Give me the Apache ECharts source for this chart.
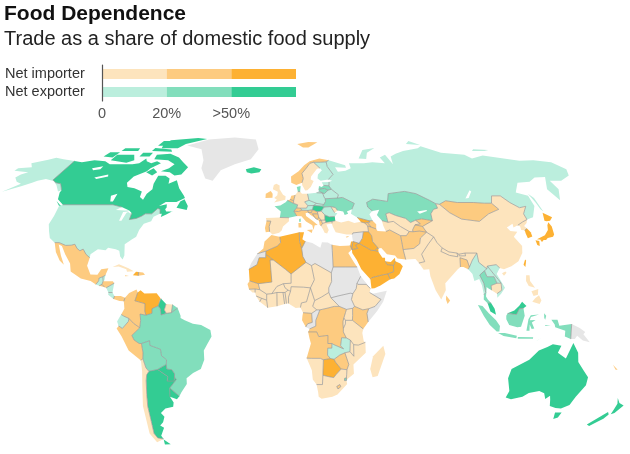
<!DOCTYPE html>
<html><head><meta charset="utf-8">
<style>html,body{margin:0;padding:0;background:#fff}#c{width:630px;height:454px}</style>
<script src="https://cdn.jsdelivr.net/npm/echarts@6/dist/echarts.min.js"></script>
</head><body><div id="c"></div>
<script>
// ---------- legend ----------
const legendRows = ['Net importer', 'Net exporter'];
const legendTicks = ['0', '20%', '>50%', ''];
const legendSpans = [1, 1, 1];

// ---------- country groups ----------
const importerLow = ['Sweden','UK','Spain','Germany','Greece','Turkey','Chile','Suriname','Cuba','Mali','Niger','Chad','Nigeria','Ethiopia','CAR','Cameroon','Uganda','Tanzania','Namibia','South Africa','Mozambique','Madagascar','Malawi','Guinea','Guinea-Bissau','Sierra Leone','Liberia','Ivory Coast','Ghana','Togo','Benin','Burkina Faso','Rwanda','Pakistan','India','Nepal','Bhutan','China','North Korea','Uzbekistan','Turkmenistan','Cambodia','Philippines','Serbia','Macedonia','Moldova'];
const importerMid = ['Mexico','Colombia','Peru','Norway','Svalbard','Portugal','Italy','Ireland','Belgium','Netherlands','Switzerland','Albania','Montenegro','Bosnia','Croatia','Slovenia','Morocco','Egypt','Senegal','Gabon','DRC','Kenya','Angola','Zimbabwe','Lesotho','Iran','Afghanistan','Bangladesh','Sri Lanka','Mongolia','Kyrgyzstan','Tajikistan','Azerbaijan','Armenia','Honduras','El Salvador','Panama','Dominican Republic','Jamaica','New Caledonia','Cyprus'];
const importerHigh = ['Venezuela','Haiti','Algeria','Tunisia','Mauritania','Botswana','Saudi Arabia','Iraq','Yemen','Oman','UAE','Kuwait','Jordan','Israel','Georgia','Japan','South Korea','Taiwan'];
const exporterLow = ['USA','Russia','Finland','Belarus','Poland','Romania','Czechia','Slovakia','Austria','Estonia','Ecuador','Guatemala','Belize','Nicaragua','Costa Rica','Zambia','Myanmar','Laos','Vietnam'];
const exporterMid = ['Brazil','Bolivia','French Guiana','France','Denmark','Ukraine','Lithuania','Latvia','Kazakhstan','Thailand','Indonesia','Swaziland'];
const exporterHigh = ['Canada','Iceland','Guyana','Paraguay','Uruguay','Argentina','Hungary','Bulgaria','Malaysia','Australia','New Zealand'];
const noData = ['Greenland','Libya','Sudan','South Sudan','Western Sahara','Eritrea','Somalia','Congo','Syria','Papua New Guinea'];

// ---------- outlines: lon lat; "|" starts an inner ring ----------
const outlines = {
USA:['-124.7 48.4,-123 49,-95 49,-89.5 48,-92 46.7,-87 46.5,-84.5 46.5,-85 46,-87.5 45.8,-87.8 42,-86.5 42,-85.5 45.5,-84.7 45.8,-83.5 45.3,-82.5 45.3,-82.5 42.5,-79 43,-76.5 44,-75 45,-71.5 45,-69.2 47.4,-67.8 47,-67 45,-70 43.7,-70.5 41.8,-74 40.7,-75.5 38,-76 35,-78 33.9,-81 31.8,-80 27,-80.5 25.2,-82 26.5,-83 29,-85 29.7,-89 30.3,-90 29.2,-94 29.6,-97.2 27.5,-97.2 26,-99.5 27.5,-101.5 29.7,-103 29,-104.7 30,-106.5 31.8,-108.2 31.4,-111 31.3,-114.8 32.5,-117.1 32.5,-120.5 34.5,-122.5 37.5,-124.3 40.4,-124 44',
'-141 69.6,-141 60.3,-137.5 59,-134 58.5,-130 55.5,-131.5 55,-136 58,-140 59.8,-146 60.8,-150 60,-152 59,-156 57.5,-164 54.8,-158 58.5,-162 59.5,-166 61.5,-165 63,-162 64,-172 64.7,-172 66,-164 66.5,-168 68.5,-160 70.3,-156.5 71.3,-150 70.5'],
Canada:['-141 69.6,-135 69,-128 70,-120 69.5,-115 68,-108 68,-100 68,-96 68.5,-94 71,-92 69.5,-88 68.5,-85 69.5,-81.5 68.5,-86 66,-87 64.5,-93 62,-94.5 59,-92.5 57,-88 56.5,-82.5 55,-82 52.5,-79.5 51.3,-79 54,-77 56,-78 58.5,-78 62.3,-73.5 62.4,-70 61,-69 58.5,-65 60.2,-61.5 56.5,-57 53,-56 52,-60 50.2,-66 50.2,-69 48.5,-65 49.2,-64.5 47.8,-65 47,-64 46,-61 46,-60 46.5,-63.5 44.7,-66 43.6,-66 45,-67 45,-67.8 47,-69.2 47.4,-71.5 45,-75 45,-76.5 44,-79 43,-82.5 42.5,-82.5 45.3,-84.5 46.5,-89.5 48,-95 49,-123 49,-128 51.5,-130 54.5,-130 55.5,-134 58.5,-137.5 59,-141 60.3|-124 66,-118 67,-118 65.5,-122 65|-117 61.5,-110 63,-109 62,-115 60.8|-99 53,-96 54,-96 50.5,-97.5 50.5',
'-80 73.5,-72 71.5,-67 69,-62 66.5,-64 63,-68 62.5,-72 64,-78 64.5,-74 66,-72 68,-78 70,-88 70.5,-89 73','-117 70,-105 68.8,-101 70,-105 73,-117 73','-125 72,-118 71.5,-117 74.3,-124 74.3','-90 76.5,-78 76.5,-75 79,-62 82.5,-70 83.1,-90 81.5,-92 79','-95 75,-80 74.6,-82 75.8,-95 76.7','-117 75,-105 75,-106 76.5,-117 76.5','-95 78,-87 78,-88 81,-95 81','-100 72,-93 72,-93 74,-100 74','-87 64,-82 62.5,-80 64,-84 66','-59 47.7,-53 46.7,-53 48.5,-56 51.5,-58 50.5','-128 50.7,-123.5 48.4,-125 48.7'],
Greenland:['-73 78.2,-60 82,-40 83.5,-22 82,-18 76,-22 70.5,-32 68,-40 65,-43 60,-48 61,-53 66,-54 70,-60 76'],
Iceland:['-24 65.5,-19 66.5,-14 65.5,-15 64,-20 63.4,-23 64'],
Mexico:['-117.1 32.5,-114.8 32.5,-111 31.3,-108.2 31.4,-106.5 31.8,-104.7 30,-103 29,-101.5 29.7,-99.5 27.5,-97.2 26,-97.8 22.5,-95.5 18.8,-92 18.6,-90.5 21,-87 21.5,-88 18.5,-89.2 17.8,-91 17.2,-91 16,-92.2 14.5,-95 16,-100 17,-105.5 20,-106.5 23.5,-110 27.5,-112.8 31,-114.7 31.7,-112 27,-109.5 23,-112 24.8,-115 28.5'],
Guatemala:['-92.2 14.5,-91 16,-91 17.2,-89.2 17.8,-88.8 15.9,-89.2 14.5,-90.5 13.9'],
Belize:['-88 18.5,-88.2 16.3,-88.8 15.9,-89.2 17.8'],
Honduras:['-88.8 15.9,-84 15.8,-83.2 15,-87 13,-87.8 13.3,-89.2 14.5'],
'El Salvador':['-89.2 14.5,-87.8 13.3,-90.5 13.9'],
Nicaragua:['-83.2 15,-83.7 11,-85.7 11,-87 13'],
'Costa Rica':['-83.7 11,-82.6 9.5,-83 8.2,-85.7 10,-85.7 11'],
Panama:['-82.6 9.5,-79.5 9.5,-77.4 8.7,-77.9 7.2,-80 7.3,-83 8.2'],
Cuba:['-85 22,-82 23.2,-77 21.5,-74.2 20.2,-77.5 19.9,-78 21,-82 22.2'],
Haiti:['-74.4 18.4,-73 19.9,-71.7 19.8,-71.7 18.2'],
'Dominican Republic':['-71.7 19.8,-69.5 19.6,-68.4 18.6,-71.7 18.2'],
Jamaica:['-78.3 18.4,-76.3 18.1,-76.5 17.9,-78.2 18'],
Colombia:['-77.4 8.7,-75.5 10.8,-72 12.3,-71.3 11,-72.5 7.4,-67.5 6.2,-67.5 2.9,-66.9 1.2,-69.8 1.7,-69.5 -1,-70 -4.2,-73 -2.3,-75.2 -0.2,-77.7 0.8,-79 1.5,-77.5 4,-77.9 7.2'],
Venezuela:['-71.3 11,-70 12,-68 10.6,-62 10.7,-60 8.5,-59.8 8.4,-61 5.2,-64 4,-64 2,-66.9 1.2,-67.5 2.9,-67.5 6.2,-72.5 7.4'],
Guyana:['-59.8 8.4,-57.2 6,-58 3.5,-57 2,-59.5 1.3,-60 4,-61 5.2'],
Suriname:['-57 2,-54.5 2.3,-54 5.8,-57.2 6,-58 3.5'],
'French Guiana':['-54.5 2.3,-51.5 4.3,-54 5.8'],
Brazil:['-66.9 1.2,-64 2,-64 4,-61 5.2,-60 4,-59.5 1.3,-57 2,-54.5 2.3,-51.5 4.3,-50 1,-50 0,-48 -1,-44 -2.5,-40 -3,-35.5 -5.2,-35 -8,-37 -11,-39 -14,-39 -18,-41 -22,-45 -23.7,-48.5 -26,-48.7 -28.5,-52 -32,-53.4 -33.7,-57.6 -30.2,-53.7 -26.5,-54.5 -25.5,-54.3 -24,-55.5 -22.3,-58 -22,-58 -20,-57.7 -18,-60 -16.3,-60.3 -13.5,-65.4 -11.8,-65.4 -9.8,-69.5 -11,-70.6 -11,-73 -9.5,-74 -7.5,-70 -4.2,-69.5 -1,-69.8 1.7'],
Bolivia:['-69.5 -11,-65.4 -9.8,-65.4 -11.8,-60.3 -13.5,-60 -16.3,-57.7 -18,-58 -20,-62.6 -22.2,-67 -23,-68.3 -21.5,-69.4 -17.5,-69 -15'],
Paraguay:['-58 -20,-58 -22,-55.5 -22.3,-54.3 -24,-54.5 -25.5,-55 -27.2,-58.5 -27.2,-57.7 -25.3,-62.6 -22.2'],
Argentina:['-67 -23,-62.6 -22.2,-57.7 -25.3,-58.5 -27.2,-55 -27.2,-54.5 -25.5,-53.7 -26.5,-57.6 -30.2,-58.3 -34,-57 -36.5,-57.7 -38.3,-62 -39,-65 -41,-63.7 -42.6,-65.3 -45,-67.5 -46.5,-65.8 -47.5,-69 -51,-68.4 -52.5,-71.5 -52,-72.5 -50,-71.5 -44,-71 -38,-70 -33,-69 -27,-68.3 -24.5','-68.5 -52.7,-65.5 -54.8,-69 -55'],
Chile:['-69.4 -17.5,-68.3 -21.5,-67 -23,-68.3 -24.5,-69 -27,-70 -33,-71 -38,-71.5 -44,-72.5 -50,-71.5 -52,-68.4 -52.5,-73 -54,-75 -50,-74 -44,-73.5 -38,-71.5 -30,-70.4 -23,-70.4 -18.3'],
Peru:['-70 -4.2,-73 -2.3,-75.2 -0.2,-75.5 -1.5,-78.5 -4.5,-80.3 -3.4,-81.3 -4.5,-79 -8,-76 -14,-70.4 -18.3,-69.4 -17.5,-69 -15,-69.5 -11,-70.6 -11,-73 -9.5,-74 -7.5'],
Ecuador:['-75.2 -0.2,-77.7 0.8,-79 1.5,-80 0,-81 -1.5,-80.3 -3.4,-78.5 -4.5,-75.5 -1.5'],
Uruguay:['-57.6 -30.2,-53.4 -33.7,-54.9 -35,-58.3 -34'],
Norway:['5 59,5 62,10 64.5,14 67.5,18 69.5,25 71,31 70,29 69.2,25 69,20.5 69,18 68.5,14.5 65.5,12 63.5,12.5 61,11.5 59,8 58'],
Svalbard:['11 79,20 80.3,27 80,19 77,15 77'],
Sweden:['11.5 59,12.5 61,12 63.5,14.5 65.5,18 68.5,20.5 69,24 66,22 65.7,17.5 62,17 60.5,18.7 59.8,16.5 57,14.3 55.5,13 55.4,11.5 58'],
Finland:['20.5 69,25 69,29 69.2,29 66.8,31.5 63,27.8 60.5,23 60,21.3 61,22 63,25 65,24 66'],
Denmark:['8.2 57,10.5 57.5,10 54.9,8.7 54.9'],
UK:['-5 50,1.3 51.2,1.5 52.8,0 53.5,-2 56,-2 57.7,-4 58.5,-5.5 58,-6 56,-3 54.8,-3.3 53.3,-5 52,-3.5 51.4'],
Ireland:['-6 52.2,-6 54,-7.2 55.2,-10 54,-10 52'],
France:['2.5 51,6 49.6,8.2 49,7.6 47.6,6 46.2,7.5 44,3.2 43.3,-1.7 43.4,-1.2 46,-4.7 48.3,-1.5 48.7,1.5 50.1','8.6 41.5,9.5 41.5,9.5 43,8.7 42.7'],
Spain:['-1.7 43.4,3.2 43.3,3.2 41.8,0 39.5,-0.7 37.7,-2 36.8,-5.5 36,-7 37.2,-7.3 39.5,-6.5 41.8,-8.8 41.9,-9.2 43.2'],
Portugal:['-8.8 41.9,-6.5 41.8,-7.3 39.5,-7 37.2,-9 37,-9.5 38.8'],
Belgium:['2.5 51,4 51.4,6 50.8,6 49.6'],
Netherlands:['4 51.4,4.8 53,7 53.4,6 50.8'],
Germany:['8.7 54.9,10 54.9,11 54,14.2 53.9,14.7 51,12.2 50.3,13.8 48.6,13 47.5,9.6 47.5,7.6 47.6,8.2 49,6 49.6,6 50.8,7 53.4'],
Switzerland:['7.6 47.6,9.6 47.5,10.4 46.6,8.5 46,6 46.2'],
Austria:['9.6 47.5,13 47.5,13.8 48.6,17 48.7,16.2 46.8,13.7 46.5,10.4 46.6'],
Italy:['6 46.2,8.5 46,10.4 46.6,13.7 46.5,13.7 45.6,12.3 45.2,12.5 44,16 41.9,18.4 40.1,16.8 40,16 38,15.5 40,12.3 41.7,10 43.9,7.5 44','12.5 38,15.6 38.2,15 36.7','8.2 39,9.7 39,9.7 41,8.2 41'],
Czechia:['12.2 50.3,14.7 51,18.8 49.6,17 48.7,13.8 48.6'],
Poland:['14.2 53.9,19.5 54.4,23 54.3,23.5 52.5,24 51.7,24 50.5,22.8 49.1,18.8 49.6,14.7 51'],
Slovakia:['18.8 49.6,22.8 49.1,22 48.4,17 48.7'],
Hungary:['17 48.7,22 48.4,22.8 48,21 46.2,18.8 45.9,16.2 46.8'],
Slovenia:['13.7 46.5,16.2 46.8,15.5 45.5,13.7 45.6'],
Croatia:['13.7 45.6,15.5 45.5,16.2 46.8,18.8 45.9,19 45,16 45,17.5 43,18.5 42.5,15 44.5,14 45.2'],
Bosnia:['16 45,19 45,19.3 43.5,18.5 42.5,17.5 43'],
Serbia:['19 45,18.8 45.9,21 46.2,22.7 44.5,22.5 42.3,20.5 42.2,19.3 43.5'],
Montenegro:['19.3 43.5,20.5 42.2,19.3 41.9,18.5 42.5'],
Albania:['19.3 41.9,20.5 42.2,21 40.8,20 39.7,19.4 40.5'],
Macedonia:['20.5 42.2,22.5 42.3,23 41.3,21 40.8'],
Greece:['20 39.7,21 40.8,23 41.3,26.3 41.7,26 40.8,23 40.3,24 38,23 36.5,21.7 36.8,21 38.3'],
Bulgaria:['22.5 42.3,22.7 44.5,25 43.7,28 43.8,28 42,26.3 41.7,23 41.3'],
Romania:['21 46.2,22.8 48,26.5 48.2,28.2 45.5,29.7 45.2,28 43.8,25 43.7,22.7 44.5'],
Moldova:['26.5 48.2,29 47.8,30 46.5,28.2 45.5'],
Ukraine:['24 51.7,31 52,34 52.3,40 49.6,38 47,35 46,35.5 45,33.5 44.5,33 46,30 46.5,29 47.8,26.5 48.2,22.8 48,22 48.4,22.8 49.1,24 50.5'],
Belarus:['23 54.3,23.5 52.5,24 51.7,31 52,32 53.5,28.5 56,26.5 55.6,24 54'],
Lithuania:['21 56,21 55.2,23 54.3,24 54,26.5 55.6,24.5 56.4'],
Latvia:['21 56,24.5 56.4,26.5 55.6,28.5 56,27.5 57.6,24.3 57.8,23 57,21.5 57.5'],
Estonia:['24.3 57.8,27.5 57.6,28 59.4,23.5 59.2'],
Russia:['31 70,41 67.5,41 66.2,34 66.5,35 64.3,40 64.7,44 66,44 68.5,54 68.5,60 69,68 68.5,67 71.5,72 73,73 68,75 72,80 73.5,87 75,100 76.5,104 77.7,113 74,128 73,130 71,140 72.5,160 69.7,170 70,180 69,183 65.5,179 62.5,170 60,163 60,162.5 56,157 51,155.7 56,163 61.8,156 61.5,150 59.5,142 59,135.5 54.5,141 53,140 48.5,135 43.5,131 42.5,131 45,135 48.3,131 47.7,127.5 50,125 53,120 53,117 49.7,113 49.7,107 50,98 50,92 50.8,87.5 49.2,85.5 49.5,83 51,77 54,71 55,61 54,59 50.5,51 51.5,47 50,47 48,49 46.3,47 44.8,48 42,46 42,40 43.4,37 45,38 47,40 49.6,34 52.3,31 52,32 53.5,28.5 56,27.5 57.6,28 59.4,30 60,27.8 60.5,31.5 63,29 66.8,29 69.2|104 51.8,109.5 55.5,110 55,106 52','19.5 54.4,21 55.2,23 54.3','142 54,143.3 52,142.7 46,142 47,142 50','52 71,57 70.7,60 74,68 76.7,68 77,58 75.5','95 79,105 78.5,100 81','137 75,146 75,150 75.5,140 76'],
Mongolia:['87.5 49.2,92 50.8,98 50,107 50,113 49.7,117 49.7,119 47,112 45,105 41.7,96 42.7,91 45.5'],
China:['87.5 49.2,91 45.5,96 42.7,105 41.7,112 45,119 47,117 49.7,120 53,125 53,127.5 50,131 47.7,135 48.3,131 45,131 42.5,128 41.5,124.3 40,121.5 39,122 40.7,118 39,119 37.5,122.5 37.2,119.5 35,122 31,121 28,118 24.5,114 22.3,110 21,108 21.6,106.5 23,102 22.4,101.5 21.2,98 24,98 28,92 28,88.8 27.5,88 28,84 28.5,81 30.2,79 32.5,78 35,75 37,73.7 39.5,80 42,80.5 45,83 47,85.5 47.5,85.5 49.5','108.7 19.3,110.5 20.1,111 19.5,109.5 18.2'],
Kazakhstan:['47 50,51 51.5,59 50.5,61 54,71 55,77 54,83 51,85.5 49.5,85.5 47.5,83 47,80.5 45,80 42,74.5 42.8,71 42.2,68 41.2,66 43,61 44.3,58 45.5,56 45,56 41.3,53 42,51 44.5,53 46.8,49 46.3,47 48|73.5 46,79 46.7,79 46.2,74.5 45'],
Uzbekistan:['56 41.3,56 45,58 45.5,61 44.3,66 43,68 41.2,71 42.2,73 40.7,70 40.2,68 38,68 37.2,66 37.3,62 39.5,59 41.7'],
Turkmenistan:['53 42,56 41.3,59 41.7,62 39.5,66 37.3,64 35.5,61 35.5,56 38,53.8 37.3,53 40'],
Kyrgyzstan:['71 42.2,74.5 42.8,80 42,73.7 39.5,70 40.2,73 40.7'],
Tajikistan:['68 37.2,68 38,70 40.2,73.7 39.5,75 37,71.5 37.5'],
Afghanistan:['61 35.5,64 35.5,66 37.3,68 37.2,71.5 37.5,75 37,71 34.5,70 32,66.5 30,61 29.5,61 31.5'],
Pakistan:['61 29.5,66.5 30,70 32,71 34.5,75 37,78 35,74.5 32,70 27.5,71 24.3,68 23.7,66.5 25.4,61.6 25.2'],
India:['78 35,79 32.5,81 30.2,80 28.7,84 27,88 26.4,88 28,88.8 27.5,88.8 26.8,92 26.8,92 28,98 28,95 25,93 22,92.3 25,89 26,88.5 22,87 21,82 16.7,80 15,80 12,77.5 8,75 12,73 18,72.8 21,70 20.8,68 23.7,71 24.3,70 27.5,74.5 32'],
Nepal:['80 28.7,81 30.2,84 28.5,88 28,88 26.4,84 27'],
Bhutan:['88.8 27.5,92 28,92 26.8,88.8 26.8'],
Bangladesh:['88.5 22,89 26,92.3 25,93 22,92.2 21,90 22'],
'Sri Lanka':['80 9.7,81.8 7.5,80.5 6,79.8 8'],
Myanmar:['98 28,98 24,101.5 21.2,100.2 20.4,97.5 18.5,99 15,99.5 11,98.5 10,98 14,97 16.8,94.5 16,94 19,92.2 21,93 22,95 25'],
Thailand:['100.2 20.4,101 17.8,104.5 17.8,105.5 15,102.5 14,102.5 12,100.9 12.8,100.2 13.4,99.8 11,99.5 9.3,100.3 8,101.8 6.5,100.1 6.4,98.3 8,98.5 10,99.5 11,99 15,97.5 18.5'],
Laos:['101.5 21.2,102 22.4,104.5 19,106.5 16.5,107.5 15,105.5 15,104.5 17.8,101 17.8,100.2 20.4'],
Vietnam:['102 22.4,106.5 23,108 21.6,106 19,109.2 13,107 10.5,105 8.7,105 10.5,107.5 12,107.5 15,106.5 16.5,104.5 19'],
Cambodia:['102.5 12,102.5 14,105.5 15,107.5 15,107.5 12,105 10.5'],
Malaysia:['100.1 6.4,101.8 6.5,103.4 4,104 1.4,101.3 2.8','109.7 2,113 3.2,115.5 5.3,117 7,119 5.2,117.5 4.2,115.5 4,114 1.5'],
Indonesia:['95.3 5.6,97.5 5.2,100.5 2,104 -1,106 -3.5,105.8 -5.8,104.5 -5.8,101 -3,98 1','105.2 -6.5,108.5 -6.5,114.5 -7.7,114.3 -8.7,108 -7.8','115 -8.2,122.5 -8.3,122.5 -8.9,115 -8.9','123.5 -10.2,127 -8.4,125 -9.5','109 1,109.7 2,114 1.5,115.5 4,117.5 4.2,118 1,116.3 -3.8,114.5 -4,110.5 -3,109 -0.5','119 -5.5,119.8 -0.5,121 1.2,125 1.5,121 0.4,120.5 -1,123.3 -0.9,121.5 -1.9,122.8 -4.5,121.5 -4.7,120.5 -2.8,120.5 -5.5','131 -0.8,134 -0.8,135 -3.3,141 -2.6,141 -9.1,138 -8,138 -5.5,133 -4,132.7 -2.8','127.5 2,128.5 1,128 -0.8,127.5 0','128 -3,130.8 -3.5,128.2 -3.4'],
'Papua New Guinea':['141 -2.6,145 -4.3,147.8 -6,147 -7,150.5 -10.5,147 -9.7,144 -7.7,143 -9.1,141 -9.1'],
Philippines:['120.5 18.4,122.2 18.4,122 16,124 13,121 13.8,120 16','122 7,125.5 6,126.5 7.5,125.5 9.8,123.5 8.5','122 11.5,125.5 12.5,125 10,122.8 9.5'],
Taiwan:['120.2 23,121.5 25.2,121.9 24.8,120.9 22'],
Japan:['131 34,136 35.7,139 38,140 40,141.5 41.3,142 39.5,141 36,139.8 35,136.8 34.5,135.5 33.6,132 33.8','130 33.5,131.8 33.2,131 31,130 31.5','132.5 34,134.5 34.2,134 33.4,133 32.8','140 42,141.8 45.5,145.3 43.5,143 42,141 41.8'],
'North Korea':['124.3 40,128 41.5,131 42.5,129.7 41,127.5 39.7,128.4 38.6,126.7 37.8,125 38,125.3 39.5'],
'South Korea':['126.7 37.8,128.4 38.6,129.4 37,129.2 35.2,126.5 34.4,126.5 36.5'],
Turkey:['26.3 41.7,28 42,31 41.2,35 42,38 41,41.5 41.5,43.5 41,44.8 39.7,44.7 37.2,42 37.2,36.5 36.7,36 36,33 36,30.5 36.5,27.5 37,26.3 39.5,26 40.8'],
Georgia:['40 43.4,46 42,46.5 41.4,45 41.2,43.5 41,41.5 41.5'],
Armenia:['43.5 41,45 41.2,46.5 39.2,44.8 39.7'],
Azerbaijan:['46 42,48 42,49.5 40.5,49 38.4,46.5 39.2,45 41.2,46.5 41.4'],
Iran:['44.8 39.7,46.5 39.2,49 38.4,49.5 37.5,53.8 37.3,56 38,61 35.5,61 31.5,61 29.5,61.6 25.2,57.5 25.7,56.5 27,52.5 27.5,50 30.2,48.5 30,47.7 31,46 33,46 35.5,44.7 37.2'],
Iraq:['42 37.2,44.7 37.2,46 35.5,46 33,47.7 31,48.5 30,47.7 30,46.5 29.1,44.7 29.2,39 32.2,41 34.4'],
Kuwait:['48.5 30,48.3 28.6,46.5 29.1,47.7 30'],
Syria:['36 36,36.5 36.7,42 37.2,41 34.4,39 32.2,36 33,35.8 35'],
Jordan:['36 33,39 32.2,37 31.5,38 30,35 29.5,35.5 31.5'],
Israel:['35 33,36 33,35.5 31.5,35 29.5,34.3 31.3'],
'Saudi Arabia':['35 29.5,38 30,37 31.5,39 32.2,44.7 29.2,46.5 29.1,48.3 28.6,50 26,51.3 26,51.2 24.5,52 23,55.2 22.7,55 20,52 19,49 18.5,44 17.4,43.2 16.7,39 21,37 25,35 28'],
UAE:['51.2 24.5,54 24.2,56.3 26,56.3 24.5,55.2 22.7,52 23'],
Oman:['56.3 24.5,58.7 23.5,59.8 22.3,57.8 19,55 17,53 16.7,52 19,55 20,55.2 22.7'],
Yemen:['43.2 16.7,44 17.4,49 18.5,52 19,53 16.7,48 14,45 12.8,43.5 12.7'],
Cyprus:['32.5 35,34.5 35.5,33 34.6'],
Egypt:['25 31.6,29 31,32 31.2,34.3 31.3,35 29.5,33 28,33.7 27,35.5 24,37 22,31.3 22,25 22,25 29'],
Libya:['25 31.6,25 29,25 22,24 19.5,16 23.5,14.2 22.6,11.5 24,10 26.5,9.5 30,11.5 33.1,15 32.3,19 30.3,20 32.7,23 32.6'],
Sudan:['25 22,31.3 22,37 22,38.5 18,36.5 15,36 12.7,34.3 10.5,33 10.7,27 9.5,23.5 8.7,22.5 11,22.5 13,24 15.7,24 19.5'],
'South Sudan':['23.5 8.7,27 9.5,33 10.7,34.3 10.5,33.5 8,35 5,34 4.2,31 3.7,27.5 5'],
Eritrea:['36.5 15,38.5 18,43 12.7,41 14.5,36.9 14.5'],
Ethiopia:['36 12.7,36.5 15,36.9 14.5,41 14.5,43 12.7,42.5 11,48 8,45 5,41.9 4,39 3.5,35 5,33.5 8,34.3 10.5'],
Somalia:['42.5 11,44 10.5,51 11.8,49 7,46 3,41.6 -1.7,41 2,41.9 4,45 5,48 8'],
Kenya:['34 4.2,35 5,39 3.5,41.9 4,41 2,41.6 -1.7,39.2 -4.7,33.9 -1,34 1'],
Uganda:['31 3.7,34 4.2,34 1,33.9 -1,30.5 -1,29.7 0,30.5 2.3'],
Rwanda:['29.7 0,30.5 -1,30.5 -2.5,29.5 -4.5,29.3 -2.7,29.3 -1.4'],
Tanzania:['30.5 -1,33.9 -1,39.2 -4.7,38.8 -6.5,39.6 -10,40.4 -10.5,37 -11.7,34.7 -11.5,33 -9.5,31 -8.6,29.5 -6,29.5 -4.5,30.5 -2.5'],
DRC:['12.3 -6,13 -4.7,16 -3.5,16 -1,18 3.5,22 4.3,25 5,27.5 5,31 3.7,30.5 2.3,29.7 0,29.3 -1.4,29.3 -2.7,29.5 -4.5,29.5 -6,31 -8.6,28.7 -8.5,28.3 -12,29.8 -13.3,25 -11.5,24 -11,22 -11,22 -7.5,17.5 -8,16.5 -6'],
Congo:['11.1 -3.9,13 -4.7,16 -3.5,16 -1,18 3.5,16.5 3.5,14 2,14.3 -1.9,12 -2.5'],
Gabon:['9.3 -1,11.1 -3.9,12 -2.5,14.3 -1.9,14 2,9.8 2.3,9.5 1'],
CAR:['14.5 5,16.5 3.5,18 3.5,22 4.3,25 5,27.5 5,23.5 8.7,22.5 11,18.8 9,15.5 7.5'],
Chad:['14.2 22.6,16 23.5,24 19.5,24 15.7,22.5 13,22.5 11,18.8 9,15.5 7.5,13.5 13,15.5 16.5'],
Cameroon:['8.5 4.5,9.8 2.3,14 2,16.5 3.5,14.5 5,15.5 7.5,13.5 13,11.5 7,9 6.5'],
Nigeria:['2.7 6.3,6.2 4.3,8.5 4.5,9 6.5,11.5 7,13.5 13,10 13.3,4 13.5,3.7 11.5,2.7 9'],
Niger:['0.2 14.8,4 15,4 19,11.5 24,14.2 22.6,15.5 16.5,13.5 13,10 13.3,4 13.5,3.7 11.5,2.5 12,1 13'],
Mali:['-12.2 14.8,-5.5 15.5,-6.5 25,-4.8 25,1.2 21,4 19,4 15,0.2 14.8,-3 13.6,-5.5 10.5,-8 10.3,-11.4 12.2'],
Algeria:['-1.7 35,8.5 37,8.5 33,9.5 30,10 26.5,11.5 24,4 19,1.2 21,-4.8 25,-8.7 27.5,-8.7 28.8,-3 31,-1.2 32.5'],
Morocco:['-1.7 35,-1.2 32.5,-3 31,-8.7 28.8,-13 27.7,-10 30,-9.5 33,-6 35.8,-2.5 35.2'],
'Western Sahara':['-13 27.7,-8.7 28.8,-8.7 27.5,-8.7 26,-12 26,-13 23,-17 21,-16 23.5'],
Mauritania:['-17 21,-13 23,-12 26,-8.7 26,-8.7 27.5,-4.8 25,-6.5 25,-5.5 15.5,-12.2 14.8,-16.5 16'],
Tunisia:['8.5 37,11 37,10 34,11.5 33.1,9.5 30,8.5 33'],
Senegal:['-17.5 14.7,-16.5 16,-12.2 14.8,-11.4 12.2,-13.7 12.5,-16.7 12.4'],
'Guinea-Bissau':['-16.7 12.4,-13.7 12.5,-13.7 11,-15 11'],
Guinea:['-13.7 12.5,-11.4 12.2,-8 10.3,-8 7.7,-10.5 8.5,-13.2 9.5,-13.7 11'],
'Sierra Leone':['-13.2 9.5,-10.5 8.5,-11.4 7'],
Liberia:['-11.4 7,-10.5 8.5,-8 7.7,-7.5 4.4'],
'Ivory Coast':['-8 10.3,-5.5 10.5,-3 11,-2.9 5.1,-7.5 4.4,-8 7.7'],
'Burkina Faso':['-5.5 10.5,-3 13.6,0.2 14.8,1 13,2.5 12,1 11,0 11,-3 11'],
Ghana:['-3 11,0 11,0.8 6,-2.9 5.1'],
Togo:['0 11,1 11,1.7 6.2,0.8 6'],
Benin:['1 11,2.5 12,3.7 11.5,2.7 9,2.7 6.3,1.7 6.2'],
Angola:['12.3 -6,16.5 -6,17.5 -8,22 -7.5,22 -11,24 -11,24 -13,22 -13,22 -16,23.5 -17.5,20 -18,18.5 -17.4,14 -17.4,11.7 -17.3,13.7 -11,13 -8.8'],
Zambia:['24 -11,25 -11.5,29.8 -13.3,28.3 -12,28.7 -8.5,31 -8.6,33 -9.5,33 -12,33 -14.5,30.5 -15,28 -16,25.3 -17.8,23.5 -17.5,22 -16,22 -13,24 -13'],
Malawi:['33 -9.5,34.7 -11.5,35 -16.5,33 -14.5,33 -12'],
Mozambique:['34.7 -11.5,37 -11.7,40.4 -10.5,40.8 -15,35 -20,35.5 -24,32.9 -26,32 -27,31.9 -25.8,31.9 -24.5,31.9 -22.3,32.7 -20,30.5 -15,33 -14.5,35 -16.5'],
Zimbabwe:['25.3 -17.8,28 -16,30.5 -15,32.7 -20,31.9 -22.3,29 -22,26 -19'],
Botswana:['20 -18,23.5 -17.5,25.3 -17.8,26 -19,29 -22,26.5 -24.5,25.5 -25.7,23 -25.3,20 -24.7,20 -22'],
Namibia:['11.7 -17.3,14 -17.4,18.5 -17.4,20 -18,20 -22,20 -24.7,20 -28.7,17 -28.7,15 -26.5,14.4 -22.5'],
'South Africa':['17 -28.7,20 -28.7,20 -24.7,23 -25.3,25.5 -25.7,26.5 -24.5,29 -22,31.9 -22.3,31.9 -24.5,31.9 -25.8,31 -26,31 -27,32 -27,32.5 -28.5,31 -30,28 -33,25.5 -34,20 -34.8,18.4 -34,18 -32|27.3 -29.5,28.8 -28.7,29.4 -29.6,28 -30.6'],
Lesotho:['27.3 -29.5,28.8 -28.7,29.4 -29.6,28 -30.6'],
Swaziland:['31.9 -25.8,32 -27,31 -27,31 -26'],
Madagascar:['49.3 -12,50.5 -15.5,47.5 -25,45 -25.5,43.5 -22,44.5 -16.5'],
Australia:['114 -22,122 -18,126 -14,130 -12.5,132.5 -11.3,136.8 -12,135.5 -15,140 -17.5,141.6 -13,142.5 -10.8,145.5 -15,146.5 -19,150 -22.5,153.2 -25.5,153.6 -29,151 -34,150 -37.5,146.5 -39,143.5 -38.8,140 -38,138.5 -35.3,137.5 -33.5,135.7 -34.9,134 -32.5,131 -31.5,126 -32.3,123.5 -34,118 -35,115 -34.3,115.7 -31.5,113.2 -26','144.7 -40.8,148.2 -40.8,148 -43,146 -43.6'],
'New Zealand':['166.5 -46,168.5 -46.7,171 -44.8,173 -43.5,174 -41.6,172.7 -40.6,170 -43','173 -34.5,175.5 -36.7,178.5 -37.7,176.5 -41,175 -41.5,174.8 -39.5,174.7 -37'],
'New Caledonia':['164 -20.2,167 -22.3,166 -22.3']
};

// ---------- colours ----------
const importerColors = ['#fde4bd', '#fdcb80', '#fdb133'];
const exporterColors = ['#bbeedd', '#82debc', '#33cc93'];
const noDataColor = '#e6e6e6';

// ---------- Robinson projection fitted to the page ----------
const robX = [1,.9986,.9954,.99,.9822,.973,.96,.9427,.9216,.8962,.8679,.835,.7986,.7597,.7186,.6732,.6213,.5722,.5322];
const robY = [0,.062,.124,.186,.248,.31,.372,.434,.4958,.5571,.6176,.6769,.7346,.7903,.8435,.8936,.9394,.9761,1];
const mapCx = 283, mapCy = 318, mapSx = 117.4, mapSy = 187;
function project(p) {
  const a = Math.min(Math.abs(p[1]), 89.99) / 5, i = Math.floor(a), f = a - i;
  const X = robX[i] + (robX[i + 1] - robX[i]) * f, Y = robY[i] + (robY[i + 1] - robY[i]) * f;
  return [mapCx + mapSx * X * p[0] * Math.PI / 180, mapCy - Math.sign(p[1]) * mapSy * Y];
}
function unproject(q) { return [(q[0] - mapCx) / mapSx * 180 / Math.PI, (mapCy - q[1]) / mapSy * 90]; }

// ---------- build the map ----------
const parseRing = s => s.split(',').map(t => t.trim().split(/\s+/).map(Number));
const area = r => r.reduce((a, p, i) => { const q = r[(i + 1) % r.length]; return a + p[0] * q[1] - q[0] * p[1]; }, 0);
const edges = new Map();
const features = [];
let x0 = 1e9, x1 = -1e9, y0 = 1e9, y1 = -1e9;
Object.keys(outlines).forEach(name => {
  const polys = outlines[name].map(poly => {
    const rings = poly.split('|').map(parseRing);
    rings.forEach((r, k) => {
      if (k > 0 && area(r) * area(rings[0]) > 0) r.reverse();
      r.forEach((p, i) => {
        const q = r[(i + 1) % r.length], a = p.join(' '), b = q.join(' ');
        const key = a < b ? a + '/' + b : b + '/' + a;
        edges.set(key, { n: (edges.get(key) ? edges.get(key).n : 0) + 1, c: [p, q] });
        const v = project(p);
        x0 = Math.min(x0, v[0]); x1 = Math.max(x1, v[0]); y0 = Math.min(y0, v[1]); y1 = Math.max(y1, v[1]);
      });
    });
    return rings;
  });
  features.push({ type: 'Feature', properties: { name }, geometry: { type: 'MultiPolygon', coordinates: polys } });
});
echarts.registerMap('world', { type: 'FeatureCollection', features });
const borders = [...edges.values()].filter(e => e.n > 1).map(e => ({ coords: e.c }));
const groups = [importerLow, importerMid, importerHigh, exporterLow, exporterMid, exporterHigh, noData];
const groupColors = [...importerColors, ...exporterColors, noDataColor];
const mapData = [];
groups.forEach((g, i) => g.forEach(name => mapData.push({ name, value: i })));

const FONT = '"Liberation Sans", Arial, sans-serif';
const chart = echarts.init(document.getElementById('c'), null, { renderer: 'canvas' });
chart.setOption({
  animation: false,
  backgroundColor: '#fff',
  title: [
    { text: 'Food Dependence', left: 4, top: 4, padding: 0, textStyle: { fontFamily: FONT, fontSize: 21, fontWeight: 'bold', color: '#111' } },
    { text: 'Trade as a share of domestic food supply', left: 4, top: 29, padding: 0, textStyle: { fontFamily: FONT, fontSize: 20, fontWeight: 'normal', color: '#222' } }
  ],
  geo: {
    map: 'world', projection: { project, unproject }, roam: false, silent: true,
    left: x0, top: y0, width: x1 - x0, height: y1 - y0,
    itemStyle: { areaColor: '#fff', borderWidth: 0, borderColor: 'transparent' },
    emphasis: { disabled: true }, select: { disabled: true }, label: { show: false }
  },
  visualMap: {
    type: 'piecewise', show: false, seriesIndex: 0, dimension: 0,
    pieces: groupColors.map((color, i) => ({ value: i, color }))
  },
  grid: { left: 102, top: 65, width: 194, height: 36 },
  xAxis: {
    type: 'value', min: 0, max: legendSpans.length, interval: 1,
    axisLine: { show: false }, axisTick: { show: false }, splitLine: { show: false },
    axisLabel: { margin: 5, color: '#555', fontFamily: FONT, fontSize: 14.5, formatter: v => legendTicks[v], showMaxLabel: false }
  },
  yAxis: {
    type: 'category', inverse: true, data: legendRows, z: 6,
    axisLine: { show: true, lineStyle: { color: '#555', width: 1.2 } }, axisTick: { show: false },
    axisLabel: { interval: 0, hideOverlap: false, align: 'left', margin: 97, color: '#333', fontFamily: FONT, fontSize: 14.5, padding: [6, 0, 0, 0] }
  },
  series: [
    { type: 'map', geoIndex: 0, data: mapData, silent: true },
    { type: 'lines', coordinateSystem: 'geo', polyline: true, silent: true, data: borders, z: 5,
      lineStyle: { color: '#979797', width: 0.7, opacity: 1 } },
    ...legendSpans.map((v, i) => ({
      type: 'bar', stack: 'legend', barWidth: 10, silent: true,
      data: [{ value: v, itemStyle: { color: importerColors[i] } }, { value: v, itemStyle: { color: exporterColors[i] } }]
    }))
  ]
});
</script></body></html>
